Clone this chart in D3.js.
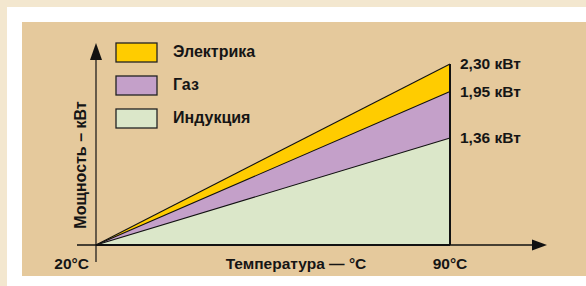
<!DOCTYPE html>
<html>
<head>
<meta charset="utf-8">
<script src="https://cdn.jsdelivr.net/npm/d3@7"></script>
<style>
  body { margin: 0; background: #f3e7cf; }
  svg { display: block; }
  text { font-family: "Liberation Sans", Arial, sans-serif; font-weight: bold; fill: #151515; }
</style>
</head>
<body>
<svg id="chart" width="586" height="286"></svg>
<script>
// temperatures on the x axis
const temps = [20, 90];
const tempLabels = ["20°C", "90°C"];

// series (drawn back to front) and their power at 20°C and 90°C
const seriesNames = ["Электрика", "Газ", "Индукция"];
const electric = [0, 2.30];
const gas = [0, 1.95];
const induction = [0, 1.36];
const valueLabels = ["2,30 кВт", "1,95 кВт", "1,36 кВт"];
const colors = ["#ffcc00", "#c4a0c9", "#dbe7c9"];

const xTitle = "Температура — °C";
const yTitle = "Мощность – кВт";

document.addEventListener('DOMContentLoaded', function() {
  const svg = d3.select("#chart");

  // background frames
  svg.append('rect').attr('x', 7).attr('y', 7).attr('width', 579).attr('height', 279).attr('fill', '#ffffff');
  svg.append('rect').attr('x', 22).attr('y', 22).attr('width', 564).attr('height', 254).attr('fill', '#e5c99c');

  const x = d3.scaleLinear().domain([20, 90]).range([96, 450]);
  const y = d3.scaleLinear().domain([0, 2.30]).range([245, 64]);

  const allSeries = [electric, gas, induction];

  // areas, biggest first
  const area = d3.area()
    .x((d, i) => x(temps[i]))
    .y0(y(0))
    .y1(d => y(d));
  const line = d3.line()
    .x((d, i) => x(temps[i]))
    .y(d => y(d));

  allSeries.forEach(function(s, k) {
    svg.append('path')
      .attr('d', area(s))
      .attr('fill', colors[k]);
    svg.append('path')
      .attr('d', line(s))
      .attr('fill', 'none')
      .attr('stroke', '#111')
      .attr('stroke-width', 1.1);
  });

  // vertical edge at 90°C
  svg.append('line')
    .attr('x1', x(90)).attr('x2', x(90))
    .attr('y1', y(0)).attr('y2', y(d3.max(electric)))
    .attr('stroke', '#111').attr('stroke-width', 2);

  // axes with arrows
  svg.append('line')
    .attr('x1', 77).attr('x2', 535)
    .attr('y1', y(0)).attr('y2', y(0))
    .attr('stroke', '#111').attr('stroke-width', 1.3);
  svg.append('line')
    .attr('x1', x(20)).attr('x2', x(90))
    .attr('y1', y(0)).attr('y2', y(0))
    .attr('stroke', '#111').attr('stroke-width', 2.2);
  svg.append('path')
    .attr('d', 'M547,' + y(0) + ' L532,' + (y(0) - 5.5) + ' L532,' + (y(0) + 5.5) + ' Z')
    .attr('fill', '#111');

  svg.append('line')
    .attr('x1', x(20)).attr('x2', x(20))
    .attr('y1', 262).attr('y2', 55)
    .attr('stroke', '#111').attr('stroke-width', 1.2);
  svg.append('path')
    .attr('d', 'M' + x(20) + ',43 L' + (x(20) - 6) + ',60 L' + (x(20) + 6) + ',60 Z')
    .attr('fill', '#111');

  // tick labels
  svg.selectAll('.tick-label')
    .data(tempLabels)
    .join('text')
    .attr('class', 'tick-label')
    .attr('x', (d, i) => i == 0 ? x(temps[i]) - 7 : x(temps[i]))
    .attr('y', 269)
    .attr('text-anchor', (d, i) => i == 0 ? 'end' : 'middle')
    .style('font-size', '15.5px')
    .text(d => d);

  // axis titles
  svg.append('text')
    .attr('x', 296).attr('y', 269)
    .attr('text-anchor', 'middle')
    .style('font-size', '15.5px')
    .text(xTitle);
  svg.append('text')
    .attr('transform', 'translate(86,165) rotate(-90)')
    .attr('text-anchor', 'middle')
    .style('font-size', '16px')
    .text(yTitle);

  // value labels at 90°C
  svg.selectAll('.value-label')
    .data(allSeries)
    .join('text')
    .attr('class', 'value-label')
    .attr('x', 460)
    .attr('y', d => y(d[1]) + 5)
    .style('font-size', '15.5px')
    .text((d, i) => valueLabels[i]);

  // legend
  const legend = svg.append('g').attr('transform', 'translate(116,43)');
  seriesNames.forEach(function(name, i) {
    legend.append('rect')
      .attr('x', 0).attr('y', i * 33)
      .attr('width', 41).attr('height', 19)
      .attr('fill', colors[i])
      .attr('stroke', '#222').attr('stroke-width', 1.3);
    legend.append('text')
      .attr('x', 57).attr('y', i * 33 + 14)
      .style('font-size', '16px')
      .text(name);
  });
});
</script>
</body>
</html>
